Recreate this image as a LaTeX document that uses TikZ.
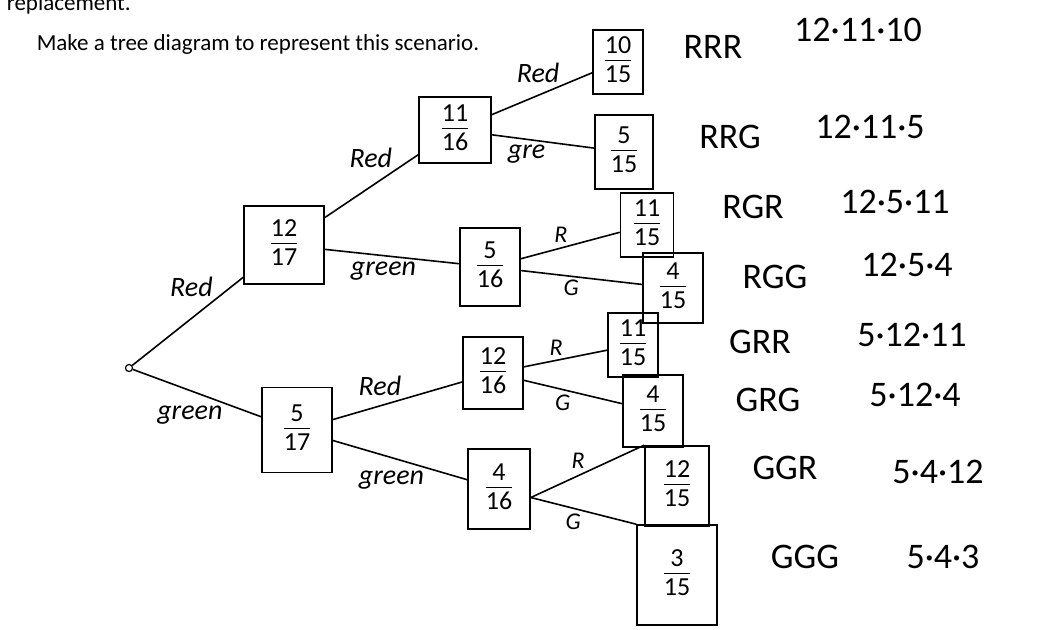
\documentclass[tikz,border=0pt]{standalone}
\usepackage{fontspec}
\setmainfont{Carlito}
\usetikzlibrary{positioning}

\setlength{\arrayrulewidth}{1.4pt}
\newcommand{\fr}[2]{\begin{tabular}{@{}c@{}}#1\\[-3pt]\hline #2\end{tabular}}

\begin{document}
\begin{tikzpicture}[%
    x=1pt, y=-1pt,
    line width=1.6pt,
    auto,
    inner sep=2pt,
    frac/.style={draw, minimum width=56pt, minimum height=70pt,
                 font=\fontsize{26}{31}\selectfont},
    hand/.style={font=\fontsize{28}{30}\selectfont\itshape},
    letter/.style={font=\fontsize{24}{26}\selectfont\itshape},
    outcome/.style={font=\fontsize{36}{38}\selectfont},
    dot/.style={circle, draw, line width=1.2pt, inner sep=2.5pt}
  ]

  \useasboundingbox (0,0) rectangle (1048,629);

  \node[anchor=base west, font=\fontsize{23}{27}\selectfont] (repl) at (4,10) {replacement.};
  \node[anchor=base west, font=\fontsize{23}{27}\selectfont] (task) at (34,50)
       {Make a tree diagram to represent this scenario.};

  %\tikzstyle{every node}=[draw]

  \node[dot] (root) at (129,368) {};

  \node[frac, minimum width=80pt, minimum height=78pt] (A)  at (284,245) {\fr{12}{17}};
  \node[frac, minimum width=70pt, minimum height=85pt] (B)  at (297,430) {\fr{5}{17}};

  \node[frac, minimum width=72pt, minimum height=66pt] (AR) at (455,130) {\fr{11}{16}};
  \node[frac, minimum width=60pt, minimum height=78pt] (AG) at (490,267) {\fr{5}{16}};
  \node[frac, minimum width=60pt, minimum height=72pt] (BR) at (493,373) {\fr{12}{16}};
  \node[frac, minimum width=62pt, minimum height=80pt] (BG) at (499,489) {\fr{4}{16}};

  \node[frac, minimum width=50pt, minimum height=58pt] (ARR) at (618,62)  {\fr{10}{15}};
  \node[frac, minimum width=58pt, minimum height=74pt] (ARG) at (624,152) {\fr{5}{15}};
  \node[frac, minimum width=53pt, minimum height=64pt] (AGR) at (647,225) {\fr{11}{15}};
  \node[frac, minimum width=60pt, minimum height=70pt] (AGG) at (673,288) {\fr{4}{15}};
  \node[frac, minimum width=50pt, minimum height=64pt] (BRR) at (633,345) {\fr{11}{15}};
  \node[frac, minimum width=60pt, minimum height=72pt] (BRG) at (653,411) {\fr{4}{15}};
  \node[frac, minimum width=64pt, minimum height=80pt] (BGR) at (677,486) {\fr{12}{15}};
  \node[frac, minimum width=80pt, minimum height=100pt] (BGG) at (677,575) {\fr{3}{15}};

  \node[outcome] (oRRR) at (713,47)  {RRR};
  \node[outcome] (oRRG) at (730,137) {RRG};
  \node[outcome] (oRGR) at (753,207) {RGR};
  \node[outcome] (oRGG) at (775,277) {RGG};
  \node[outcome] (oGRR) at (760,342) {GRR};
  \node[outcome] (oGRG) at (768,400) {GRG};
  \node[outcome] (oGGR) at (785,468) {GGR};
  \node[outcome] (oGGG) at (805,557) {GGG};

  \node[outcome] (pRRR) at (858,30)  {12·11·10};
  \node[outcome] (pRRG) at (870,127) {12·11·5};
  \node[outcome] (pRGR) at (895,202) {12·5·11};
  \node[outcome] (pRGG) at (907,265) {12·5·4};
  \node[outcome] (pGRR) at (912,335) {5·12·11};
  \node[outcome] (pGRG) at (915,395) {5·12·4};
  \node[outcome] (pGGR) at (938,472) {5·4·12};
  \node[outcome] (pGGG) at (943,557) {5·4·3};

  \path
      (root) edge              node[hand, pos=0.75] {Red}   (A)
             edge              node[hand, swap, pos=0.72] {green} (B)
      (A)    edge              node[hand, pos=0.75] {Red}   (AR)
             edge              node[hand, swap, pos=0.7] {green} (AG)
      (B)    edge              node[hand, pos=0.55] {Red}   (BR)
             edge              node[hand, swap, pos=0.7] {green} (BG)
      (AR)   edge              node[hand, pos=0.7] {Red}   (ARR)
             edge              node[hand, swap, pos=0.55] {gre} (ARG)
      (AG)   edge              node[letter] {R}   (AGR)
             edge              node[letter, swap] {G} (AGG)
      (BR)   edge              node[letter] {R}   (BRR)
             edge              node[letter, swap] {G} (BRG)
      (BG.-15) edge            node[letter] {R}   (BGR.north west)
             edge              node[letter, swap] {G} (BGG.north west);

\end{tikzpicture}
\end{document}
